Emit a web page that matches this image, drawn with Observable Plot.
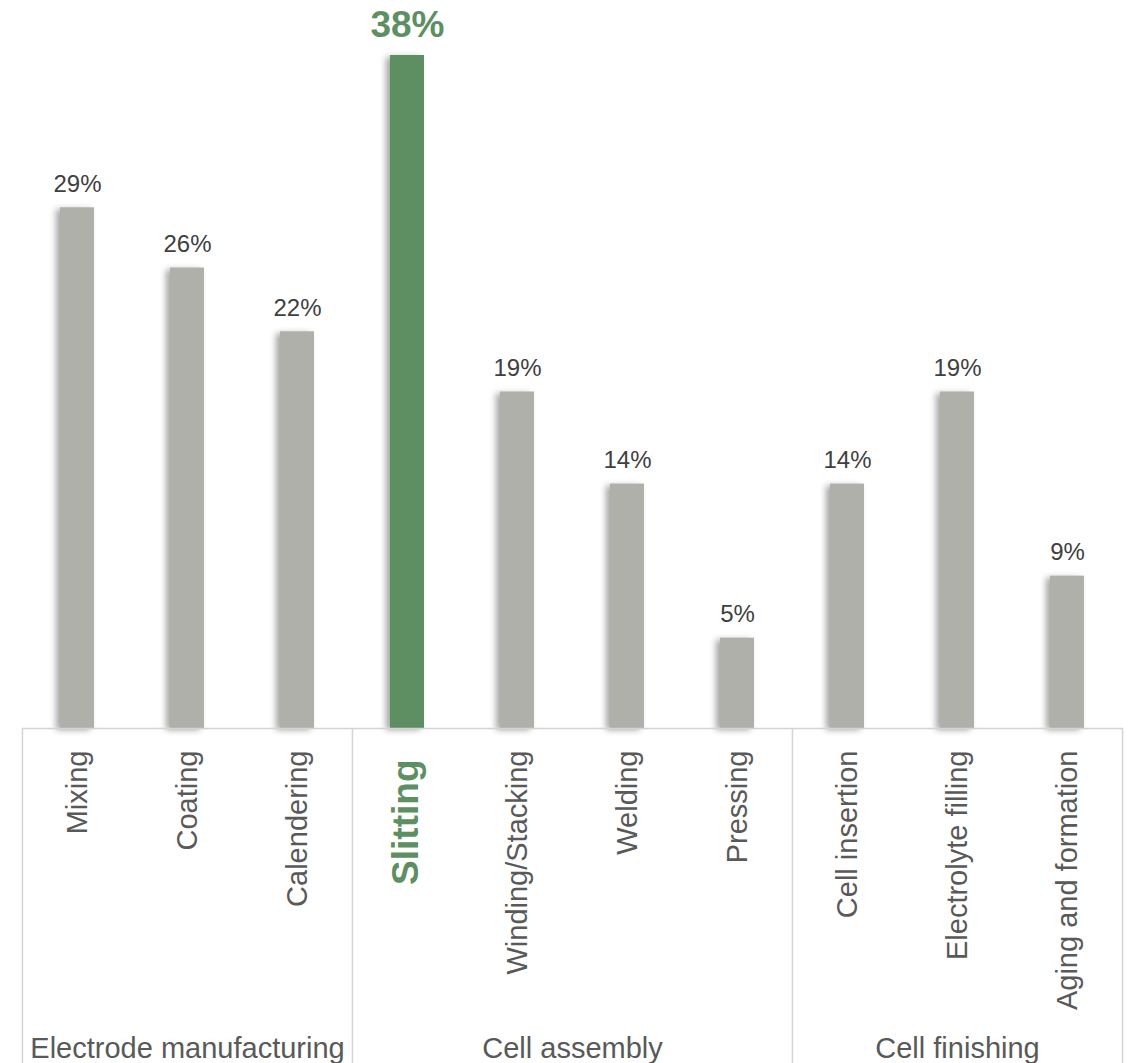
<!DOCTYPE html>
<html>
<head>
<meta charset="utf-8">
<script src="https://cdn.jsdelivr.net/npm/d3@7"></script>
<script src="https://cdn.jsdelivr.net/npm/@observablehq/plot@0.6"></script>
<style>
  html, body { margin: 0; padding: 0; background: #fff; }
  #chart svg { display: block; }
</style>
</head>
<body>
<div id="chart"></div>
<script>
// ---- data ----
const categories = ["Mixing", "Coating", "Calendering", "Slitting", "Winding/Stacking", "Welding", "Pressing", "Cell insertion", "Electrolyte filling", "Aging and formation"];
const values = [29.4, 26.0, 22.4, 38.0, 19.0, 13.8, 5.1, 13.8, 19.0, 8.6];
const valueLabels = ["29%", "26%", "22%", "38%", "19%", "14%", "5%", "14%", "19%", "9%"];
const groups = ["Electrode manufacturing", "Electrode manufacturing", "Electrode manufacturing", "Cell assembly", "Cell assembly", "Cell assembly", "Cell assembly", "Cell finishing", "Cell finishing", "Cell finishing"];
const highlight = "Slitting";

// ---- layout ----
const W = 1132, H = 1063, ML = 22, MR = 9, MT = 55, MB = 335;
const step = (W - ML - MR) / categories.length;
const gray = "#afb0aa", green = "#5e8f63", lineColor = "#d4d4d4";
const font = "Liberation Sans, Arial, Helvetica, sans-serif";

const data = categories.map((c, i) => ({cat: c, value: values[i], label: valueLabels[i], group: groups[i]}));
const normal = data.filter(d => d.cat !== highlight);
const hi = data.filter(d => d.cat === highlight);

// group structure
const groupNames = [...new Set(groups)];
const groupInfo = groupNames.map(g => {
  const cats = categories.filter((c, i) => groups[i] === g);
  return {group: g, cats, first: cats[0], last: cats[cats.length - 1]};
});

const groupLabelMarks = groupInfo.map(gi => {
  const n = gi.cats.length;
  const anchor = gi.cats[Math.floor((n - 1) / 2)];
  const offset = n % 2 === 0 ? step / 2 : 0;
  return Plot.text([gi], {
    x: () => anchor, text: "group", frameAnchor: "bottom",
    dx: offset, dy: 320, fontSize: 29, fill: "#595959", lineAnchor: "middle"
  });
});

const chart = Plot.plot({
  width: W, height: H,
  marginLeft: ML, marginRight: MR, marginTop: MT, marginBottom: MB,
  style: {fontFamily: font, background: "#fff", overflow: "visible"},
  x: {type: "band", domain: categories, paddingInner: 0.69, paddingOuter: 0.345, axis: null},
  y: {domain: [0, 38], axis: null},
  marks: [
    Plot.barY(normal, {x: "cat", y: "value", fill: gray, imageFilter: "drop-shadow(-4px 2px 3px rgba(0,0,0,0.35))"}),
    Plot.barY(hi, {x: "cat", y: "value", fill: green, imageFilter: "drop-shadow(-4px 2px 3px rgba(0,0,0,0.35))"}),
    Plot.ruleY([0], {stroke: lineColor, strokeWidth: 1.5}),
    // group separator lines below the axis
    Plot.ruleX(groupInfo, {x: "first", y1: () => 0, y2: () => 0, dx: -step / 2, insetBottom: -MB, stroke: lineColor, strokeWidth: 1.5}),
    Plot.ruleX(groupInfo.slice(-1), {x: "last", y1: () => 0, y2: () => 0, dx: step / 2, insetBottom: -MB, stroke: lineColor, strokeWidth: 1.5}),
    // value labels
    Plot.text(normal, {x: "cat", y: "value", text: "label", dy: -16, lineAnchor: "bottom", fontSize: 24, fill: "#404040"}),
    Plot.text(hi, {x: "cat", y: "value", text: "label", dy: -19, lineAnchor: "bottom", fontSize: 37, fontWeight: "bold", fill: green}),
    // category labels
    Plot.text(normal, {x: "cat", text: "cat", frameAnchor: "bottom", rotate: -90, textAnchor: "end", dx: 9, dy: 22, fontSize: 29, fill: "#595959"}),
    Plot.text(hi, {x: "cat", text: "cat", frameAnchor: "bottom", rotate: -90, textAnchor: "end", dx: 10, dy: 31, fontSize: 37, fontWeight: "bold", fill: green}),
    ...groupLabelMarks
  ]
});
document.getElementById("chart").appendChild(chart);
</script>
</body>
</html>
